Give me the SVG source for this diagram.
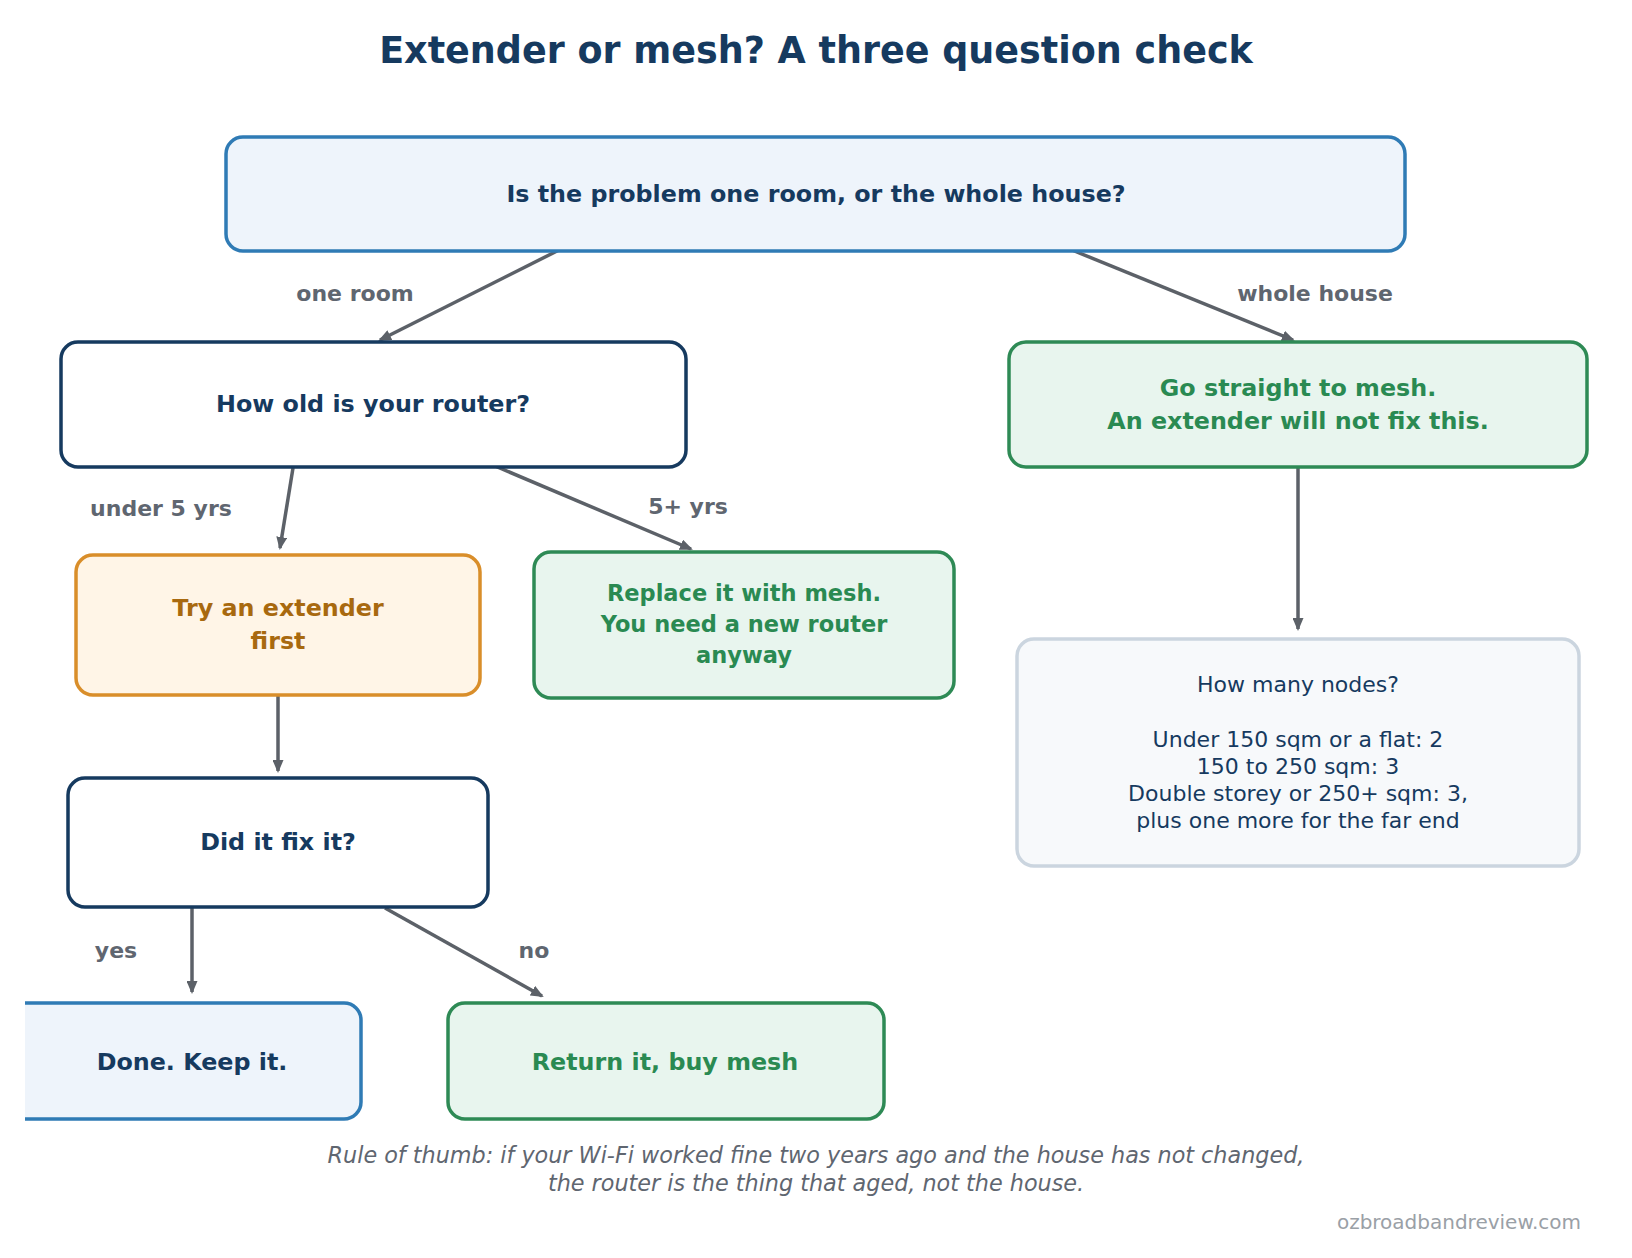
<svg xmlns="http://www.w3.org/2000/svg" width="1632" height="1258" viewBox="0 0 1632 1258">
<defs>
<style>
text{font-family:"DejaVu Sans","Liberation Sans",sans-serif;text-anchor:middle}
.title{font-size:36.5px;font-weight:bold;fill:#163a5f}
.b{font-weight:bold;font-size:23.8px}
.navy{fill:#163a5f}
.green{fill:#2a8a52}
.orange{fill:#a8690f}
.lbl{font-size:22px;font-weight:bold;fill:#5f6670}
.n{font-size:22px;fill:#163a5f}
.foot{font-size:22.3px;font-style:italic;fill:#5f6670}
.box{stroke-width:3.5}
.blue{fill:#eef4fb;stroke:#2f7bb5}
.dark{fill:#ffffff;stroke:#163a5f}
.gbox{fill:#e8f5ee;stroke:#2e8a55}
.obox{fill:#fff5e7;stroke:#d98e2a}
.lbox{fill:#f7f9fb;stroke:#cbd5df}
.c{stroke:#5c6168;stroke-width:3.5;fill:none;marker-end:url(#ah)}
</style>
<marker id="ah" markerWidth="13" markerHeight="11" refX="11" refY="5.5" orient="auto" markerUnits="userSpaceOnUse" viewBox="0 0 13 11">
<path d="M0,0 L13,5.5 L0,11 Z" fill="#5c6168"/>
</marker>
<clipPath id="cp"><rect x="25" y="0" width="1607" height="1258"/></clipPath>
</defs>
<rect width="1632" height="1258" fill="#ffffff"/>
<text class="title" x="816" y="63">Extender or mesh? A three question check</text>

<g id="connectors">
<line class="c" x1="559" y1="250" x2="380" y2="340"/>
<line class="c" x1="1072" y1="250" x2="1293" y2="340"/>
<line class="c" x1="293" y1="468" x2="280" y2="548"/>
<line class="c" x1="495" y1="466" x2="691" y2="549"/>
<line class="c" x1="1298" y1="468" x2="1298" y2="629"/>
<line class="c" x1="278" y1="696" x2="278" y2="771"/>
<line class="c" x1="192" y1="908" x2="192" y2="992"/>
<line class="c" x1="385" y1="908" x2="542" y2="996"/>
<text class="lbl" x="355" y="301">one room</text>
<text class="lbl" x="1315" y="301">whole house</text>
<text class="lbl" x="161" y="516">under 5 yrs</text>
<text class="lbl" x="688" y="514">5+ yrs</text>
<text class="lbl" x="116" y="958">yes</text>
<text class="lbl" x="534" y="958">no</text>
</g>

<g id="q1">
<rect class="box blue" x="226" y="137" width="1179" height="114" rx="17"/>
<text class="b navy" x="816" y="202">Is the problem one room, or the whole house?</text>
</g>
<g id="q2">
<rect class="box dark" x="61" y="342" width="625" height="125" rx="17"/>
<text class="b navy" x="373" y="412">How old is your router?</text>
</g>
<g id="mesh1">
<rect class="box gbox" x="1009" y="342" width="578" height="125" rx="17"/>
<text class="b green" x="1298" y="396">Go straight to mesh.</text>
<text class="b green" x="1298" y="429">An extender will not fix this.</text>
</g>
<g id="extender">
<rect class="box obox" x="76" y="555" width="404" height="140" rx="17"/>
<text class="b orange" x="278" y="616">Try an extender</text>
<text class="b orange" x="278" y="649">first</text>
</g>
<g id="replace">
<rect class="box gbox" x="534" y="552" width="420" height="146" rx="17"/>
<text class="b green" x="744" y="601" style="font-size:22.5px">Replace it with mesh.</text>
<text class="b green" x="744" y="632" style="font-size:22.5px">You need a new router</text>
<text class="b green" x="744" y="663" style="font-size:22.5px">anyway</text>
</g>
<g id="nodes">
<rect class="box lbox" x="1017" y="639" width="562" height="227" rx="17"/>
<text class="n" x="1298" y="692">How many nodes?</text>
<text class="n" x="1298" y="747">Under 150 sqm or a flat: 2</text>
<text class="n" x="1298" y="774">150 to 250 sqm: 3</text>
<text class="n" x="1298" y="801">Double storey or 250+ sqm: 3,</text>
<text class="n" x="1298" y="828">plus one more for the far end</text>
</g>
<g id="q3">
<rect class="box dark" x="68" y="778" width="420" height="129" rx="17"/>
<text class="b navy" x="278" y="850">Did it fix it?</text>
</g>
<g id="done" clip-path="url(#cp)">
<rect class="box blue" x="10" y="1003" width="351" height="116" rx="17"/>
<text class="b navy" x="192" y="1070">Done. Keep it.</text>
</g>
<g id="return">
<rect class="box gbox" x="448" y="1003" width="436" height="116" rx="17"/>
<text class="b green" x="665" y="1070">Return it, buy mesh</text>
</g>

<text class="foot" x="816" y="1163">Rule of thumb: if your Wi-Fi worked fine two years ago and the house has not changed,</text>
<text class="foot" x="816" y="1191">the router is the thing that aged, not the house.</text>
<text x="1581" y="1229" style="font-size:20px;fill:#9aa0a6;text-anchor:end">ozbroadbandreview.com</text>
</svg>
